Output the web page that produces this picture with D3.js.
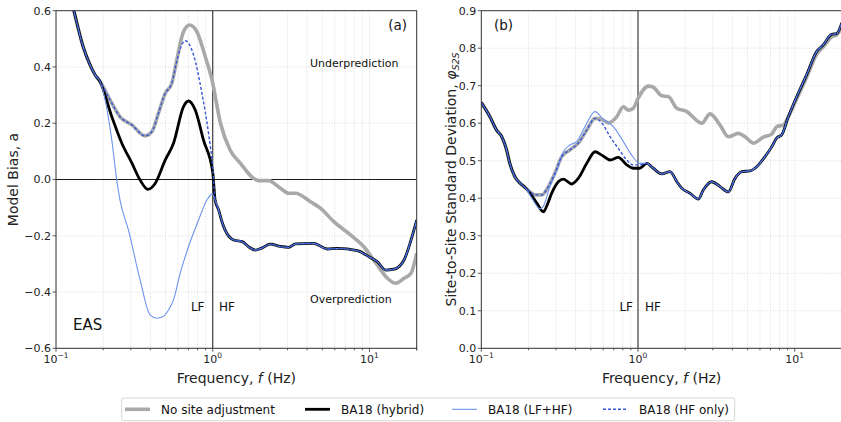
<!DOCTYPE html>
<html><head><meta charset="utf-8">
<script src="https://cdn.jsdelivr.net/npm/d3@7"></script>
<style>body{margin:0;background:#fff}svg{display:block;font-family:"DejaVu Sans",sans-serif}</style>
</head><body><svg id="c" width="841" height="422"></svg>
<script>
// ---------- DATA ----------
const seriesNames = ["No site adjustment","BA18 (hybrid)","BA18 (LF+HF)","BA18 (HF only)"];
const xTickValues = [0.1, 1, 10];
const xTickExp = ["\u22121","0","1"];
const biasTicks = [-0.6,-0.4,-0.2,0,0.2,0.4,0.6];
const phiTicks = [0,0.1,0.2,0.3,0.4,0.5,0.6,0.7,0.8,0.9];

// Panel (a): model bias
const biasLowShared = [[0.100,0.86],[0.115,0.72],[0.130,0.60],[0.149,0.472],[0.165,0.407],[0.178,0.371],[0.191,0.348]];
const biasHighShared = [[1.035,-0.073],[1.09,-0.108],[1.145,-0.150],[1.20,-0.180],[1.36,-0.215],[1.54,-0.221],[1.70,-0.240],[1.87,-0.251],[2.05,-0.244],[2.33,-0.230],[2.70,-0.238],[3.05,-0.241],[3.37,-0.229],[4.41,-0.227],[5.37,-0.247],[6.22,-0.245],[8.34,-0.253],[10.1,-0.277],[11.2,-0.292],[12.7,-0.322],[14.3,-0.319],[16.6,-0.286],[18.4,-0.215],[20,-0.144]];
const biasNoSite = [[0.221,0.283],[0.256,0.223],[0.305,0.194],[0.370,0.155],[0.409,0.170],[0.450,0.235],[0.497,0.306],[0.548,0.342],[0.584,0.413],[0.620,0.484],[0.651,0.525],[0.711,0.549],[0.793,0.525],[0.895,0.437],[0.989,0.354],[1.12,0.200],[1.29,0.105],[1.50,0.058],[1.82,0.004],[1.96,-0.004],[2.27,-0.004],[2.70,-0.031],[3.05,-0.049],[3.37,-0.049],[4.20,-0.079],[4.86,-0.102],[5.92,-0.150],[7.56,-0.197],[9.2,-0.239],[11.2,-0.304],[13.0,-0.351],[14.7,-0.369],[16.6,-0.351],[18.4,-0.333],[20,-0.262]];
const biasHybrid = [[0.227,0.223],[0.263,0.129],[0.305,0.058],[0.344,-0.002],[0.385,-0.035],[0.429,-0.014],[0.497,0.069],[0.562,0.129],[0.651,0.259],[0.700,0.279],[0.773,0.247],[0.873,0.140],[1.0,0.025]];
const biasLFHF = [[0.227,0.140],[0.244,-0.002],[0.256,-0.073],[0.290,-0.180],[0.344,-0.357],[0.399,-0.482],[0.440,-0.493],[0.480,-0.488],[0.522,-0.464],[0.562,-0.428],[0.620,-0.333],[0.700,-0.239],[0.812,-0.144],[0.918,-0.073],[0.99,-0.052]];
const biasHFonly = [[0.221,0.283],[0.256,0.223],[0.305,0.194],[0.370,0.155],[0.409,0.170],[0.450,0.235],[0.497,0.306],[0.548,0.342],[0.584,0.410],[0.620,0.465],[0.667,0.493],[0.700,0.485],[0.754,0.443],[0.853,0.306],[0.940,0.164],[1.0,0.040]];

// Panel (b): site-to-site standard deviation
const phiLowShared = [[0.100,0.655],[0.1136,0.617],[0.125,0.582],[0.135,0.564],[0.145,0.529],[0.152,0.493],[0.164,0.457],[0.177,0.440],[0.190,0.429]];
const phiHighShared = [[1.137,0.493],[1.25,0.480],[1.42,0.465],[1.60,0.471],[1.77,0.444],[1.90,0.427],[2.15,0.413],[2.43,0.398],[2.61,0.422],[2.95,0.444],[3.34,0.431],[3.77,0.417],[4.16,0.453],[4.59,0.471],[5.18,0.473],[5.72,0.484],[6.46,0.511],[7.13,0.537],[7.68,0.561],[8.26,0.569],[9.1,0.617],[10.3,0.671],[11.9,0.729],[13.8,0.791],[15.2,0.809],[17.2,0.837],[18.5,0.839],[20,0.868]];
const phiNoSite = [[0.205,0.417],[0.220,0.409],[0.243,0.409],[0.268,0.431],[0.295,0.467],[0.326,0.511],[0.368,0.529],[0.416,0.547],[0.471,0.582],[0.532,0.613],[0.587,0.610],[0.646,0.601],[0.731,0.617],[0.806,0.644],[0.867,0.635],[0.933,0.640],[1.0,0.666],[1.164,0.699],[1.25,0.696],[1.42,0.673],[1.56,0.671],[1.77,0.640],[2.05,0.631],[2.43,0.604],[2.55,0.600],[2.88,0.625],[3.34,0.595],[3.77,0.564],[4.37,0.573],[4.82,0.564],[5.44,0.547],[6.31,0.563],[7.13,0.571],[7.68,0.591],[8.46,0.595],[9.1,0.617],[10.3,0.665],[11.9,0.722],[13.8,0.784],[15.2,0.803],[17.2,0.830],[18.5,0.835],[20,0.858]];
const phiHybrid = [[0.205,0.413],[0.226,0.387],[0.249,0.364],[0.262,0.380],[0.281,0.413],[0.310,0.444],[0.334,0.451],[0.377,0.438],[0.416,0.453],[0.471,0.493],[0.532,0.524],[0.587,0.515],[0.663,0.502],[0.749,0.509],[0.847,0.489],[0.933,0.480],[1.025,0.480]];
const phiLFHF = [[0.210,0.400],[0.237,0.372],[0.249,0.379],[0.274,0.431],[0.303,0.475],[0.334,0.524],[0.368,0.542],[0.406,0.551],[0.459,0.591],[0.532,0.631],[0.601,0.610],[0.696,0.591],[0.806,0.551],[0.912,0.515],[1.025,0.493]];
const phiHFonly = [[0.205,0.417],[0.220,0.409],[0.243,0.409],[0.268,0.431],[0.295,0.467],[0.326,0.511],[0.368,0.529],[0.416,0.547],[0.471,0.582],[0.532,0.613],[0.601,0.595],[0.663,0.564],[0.749,0.533],[0.847,0.502],[0.933,0.489],[1.025,0.489]];

// ---------- STYLES ----------
const styles = [
  {color:"#a9a9a9", width:3.6, dash:null},
  {color:"#000000", width:2.8, dash:null},
  {color:"#6d94ec", width:1.1, dash:null},
  {color:"#3556d6", width:1.4, dash:"3,2"}
];

const svg = d3.select("#c");
const font = "DejaVu Sans";

function panel(opt){
  const g = svg.append("g");
  const x = d3.scaleLog().domain([0.1,20]).range([opt.x0, opt.x1]);
  const y = d3.scaleLinear().domain(opt.yDomain).range([348.3, 10.7]);
  const clipId = "clip"+opt.id;
  svg.append("clipPath").attr("id",clipId).append("rect")
    .attr("x",opt.x0).attr("y",10.7).attr("width",opt.x1-opt.x0).attr("height",337.6);
  const gridX = [];
  [0.1,1,10].forEach(d=>{for(let k=1;k<10;k++){const v=d*k; if(v<=20.0001) gridX.push(v);}});
  gridX.push(20);
  const gg = g.append("g").attr("clip-path",`url(#${clipId})`);
  gg.selectAll("line.gx").data(gridX).join("line")
    .attr("x1",d=>x(d)).attr("x2",d=>x(d)).attr("y1",10.7).attr("y2",348.3)
    .attr("stroke","#d4d4d4").attr("stroke-width",0.8).attr("stroke-dasharray","1,1.6");
  gg.selectAll("line.gy").data(opt.yTicks).join("line")
    .attr("x1",opt.x0).attr("x2",opt.x1).attr("y1",d=>y(d)).attr("y2",d=>y(d))
    .attr("stroke","#d4d4d4").attr("stroke-width",0.8).attr("stroke-dasharray","1,1.6");
  gg.append("line").attr("x1",x(1)).attr("x2",x(1)).attr("y1",10.7).attr("y2",348.3)
    .attr("stroke","#000").attr("stroke-width",0.9);
  if(opt.zeroLine){
    gg.append("line").attr("x1",opt.x0).attr("x2",opt.x1).attr("y1",y(0)).attr("y2",y(0))
      .attr("stroke","#000").attr("stroke-width",0.9);
  }
  const line = d3.line().x(d=>x(d[0])).y(d=>y(d[1])).curve(d3.curveMonotoneX);
  opt.series.forEach((s,i)=>{
    const st = styles[i];
    gg.append("path").datum(s).attr("d",line).attr("fill","none")
      .attr("stroke",st.color).attr("stroke-width",st.width)
      .attr("stroke-linejoin","round")
      .attr("stroke-dasharray",st.dash);
  });
  const ax = g.append("g").attr("transform","translate(0,348.3)");
  ax.selectAll("line.mt").data(gridX).join("line")
    .attr("x1",d=>x(d)).attr("x2",d=>x(d)).attr("y1",0)
    .attr("y2",d=>xTickValues.includes(d)?3.5:2).attr("stroke","#333").attr("stroke-width",0.8);
  xTickValues.forEach((v,i)=>{
    const t = ax.append("text").attr("x",x(v)).attr("y",15).attr("text-anchor","middle")
      .attr("font-size",11).attr("font-family",font).attr("fill","#222");
    t.append("tspan").text("10");
    t.append("tspan").attr("font-size",7.5).attr("dy",-5).text(xTickExp[i]);
  });
  const ay = g.append("g");
  opt.yTicks.forEach(v=>{
    ay.append("line").attr("x1",opt.x0-3.5).attr("x2",opt.x0).attr("y1",y(v)).attr("y2",y(v))
      .attr("stroke","#333").attr("stroke-width",0.8);
    ay.append("text").attr("x",opt.x0-5).attr("y",y(v)).attr("dy","0.35em")
      .attr("text-anchor","end").attr("font-size",11).attr("font-family",font).attr("fill","#222")
      .text(v<0?"\u2212"+Math.abs(v).toFixed(1):v.toFixed(1));
  });
  g.append("rect").attr("x",opt.x0).attr("y",10.7).attr("width",opt.x1-opt.x0).attr("height",337.6)
    .attr("fill","none").attr("stroke","#333").attr("stroke-width",1);
  const xl = g.append("text").attr("x",(opt.x0+opt.x1)/2).attr("y",383).attr("text-anchor","middle")
    .attr("font-size",14).attr("font-family",font).attr("fill","#222");
  xl.append("tspan").text("Frequency, ");
  xl.append("tspan").attr("font-style","italic").text("f");
  xl.append("tspan").text(" (Hz)");
  return {g,x,y};
}

panel({id:"a", x0:56, x1:416.7, yDomain:[-0.6,0.6], yTicks:biasTicks, zeroLine:true,
  series:[
    biasLowShared.concat(biasNoSite),
    biasLowShared.concat(biasHybrid, biasHighShared),
    biasLowShared.concat(biasLFHF, biasHighShared),
    biasLowShared.concat(biasHFonly, biasHighShared)
  ]});
panel({id:"b", x0:481.3, x1:841.9, yDomain:[0,0.9], yTicks:phiTicks, zeroLine:false,
  series:[
    phiLowShared.concat(phiNoSite),
    phiLowShared.concat(phiHybrid, phiHighShared),
    phiLowShared.concat(phiLFHF, phiHighShared),
    phiLowShared.concat(phiHFonly, phiHighShared)
  ]});

function txt(x,y,s,size,anchor){
  return svg.append("text").attr("x",x).attr("y",y).attr("font-size",size).attr("font-family",font)
    .attr("fill","#111").attr("text-anchor",anchor||"start").attr("dy","0.35em").text(s);
}
txt(407,25,"(a)",13.5,"end");
txt(310,63,"Underprediction",11);
txt(310,299,"Overprediction",11);
txt(204.5,307,"LF",12,"end");
txt(219,307,"HF",12);
txt(73,325,"EAS",15);
txt(494,25,"(b)",13.5);
txt(633,307,"LF",12,"end");
txt(645,307,"HF",12);

svg.append("text").attr("transform","translate(18,179.5) rotate(-90)").attr("text-anchor","middle")
  .attr("font-size",14).attr("font-family",font).attr("fill","#222").text("Model Bias, a");
const yl = svg.append("text").attr("transform","translate(456,179.5) rotate(-90)").attr("text-anchor","middle")
  .attr("font-size",14).attr("font-family",font).attr("fill","#222");
yl.append("tspan").text("Site-to-Site Standard Deviation, ");
yl.append("tspan").attr("font-style","italic").text("\u03c6");
yl.append("tspan").attr("font-style","italic").attr("font-size",9.5).attr("dy",3).text("S2S");

const lg = svg.append("g");
lg.append("rect").attr("x",121.7).attr("y",398).attr("width",613).attr("height",22.7).attr("rx",2)
  .attr("fill","#fff").attr("stroke","#cccccc").attr("stroke-width",0.8);
const legX = [125, 305, 452, 603];
seriesNames.forEach((n,i)=>{
  const st = styles[i];
  lg.append("line").attr("x1",legX[i]).attr("x2",legX[i]+25).attr("y1",409.3).attr("y2",409.3)
    .attr("stroke",st.color).attr("stroke-width",st.width).attr("stroke-dasharray",st.dash);
  lg.append("text").attr("x",legX[i]+36).attr("y",409.3).attr("dy","0.35em")
    .attr("font-size",12).attr("font-family",font).attr("fill","#111").text(n);
});
</script></body></html>
